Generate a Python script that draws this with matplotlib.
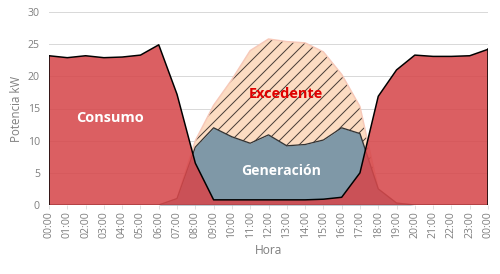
import matplotlib.pyplot as plt

plt.rcParams['font.family'] = ['Open Sans', 'DejaVu Sans']
plt.rcParams['hatch.linewidth'] = 1.0

hours = list(range(25))
hour_labels = ['%02d:00' % (h % 24) for h in hours]

consumo = [23.2, 22.9, 23.2, 22.9, 23.0, 23.3, 24.9, 17.2, 6.5, 0.8, 0.8, 0.8, 0.8,
           0.8, 0.8, 0.9, 1.2, 5.0, 16.9, 21.0, 23.3, 23.1, 23.1, 23.2, 24.2]
generacion = [0, 0, 0, 0, 0, 0, 0, 1.0, 9.0, 12.0, 10.6, 9.6, 10.9,
              9.2, 9.4, 10.1, 12.0, 11.1, 2.5, 0.3, 0, 0, 0, 0, 0]
solar = [0, 0, 0, 0, 0, 0, 0, 1.0, 10.0, 15.5, 19.5, 24.0, 25.8,
         25.4, 25.2, 23.8, 20.3, 15.3, 2.5, 0.3, 0, 0, 0, 0, 0]

fig = plt.figure(figsize=(500 / 72, 274 / 72), dpi=72)
ax = fig.add_axes([49 / 500, 1 - 205 / 274, 439 / 500, 193 / 274])

# excedente (hatched peach)
ax.fill_between(hours, generacion, solar, facecolor='#fcdcc2', edgecolor='#4a3f38',
                hatch='//', linewidth=0, zorder=2)
ax.plot(hours, solar, color='#f7c9b9', linewidth=1.5, zorder=2)

# generacion
ax.fill_between(hours, 0, generacion, color='#7f98a7', linewidth=0, zorder=3)
ax.plot(hours, generacion, color='#333333', linewidth=1.3, zorder=3)

# consumo
ax.fill_between(hours, 0, consumo, facecolor='#d6474b', alpha=0.87, edgecolor='none', zorder=4)
ax.plot(hours, consumo, color='black', linewidth=1.5, zorder=5)
ax.plot([0, 0], [0, consumo[0]], color='black', linewidth=1.5, zorder=5)
ax.plot([24, 24], [0, consumo[-1]], color='black', linewidth=1.5, zorder=5)
ax.plot([0, 24], [0, 0], color='black', linewidth=1.2, zorder=5)

ax.text(3.36, 13.6, 'Consumo', color='white', fontsize=14.5, fontweight='bold',
        ha='center', va='center', zorder=6)
ax.text(12.97, 17.3, 'Excedente', color='#e00000', fontsize=14.5, fontweight='bold',
        ha='center', va='center', zorder=6)
ax.text(12.69, 5.3, 'Generación', color='white', fontsize=14, fontweight='bold',
        ha='center', va='center', zorder=6)

ax.set_xlim(0, 24)
ax.set_ylim(0, 30)
ax.set_yticks(range(0, 31, 5))
ax.set_xticks(hours)
ax.set_xticklabels(hour_labels, rotation=90)
ax.tick_params(axis='x', colors='#d9d9d9', labelcolor='#7f7f7f', labelsize=10.5, length=4, pad=2)
ax.tick_params(axis='y', length=0, labelcolor='#7f7f7f', labelsize=10.5, pad=9)
ax.grid(axis='y', color='#d9d9d9', linewidth=1)
ax.set_axisbelow(True)
for s in ax.spines.values():
    s.set_visible(False)

ax.set_ylabel('Potencia kW', color='#7f7f7f', fontsize=11.5, labelpad=5)
ax.set_xlabel('Hora', color='#7f7f7f', fontsize=12, labelpad=6)

fig.savefig('out.png', dpi=72)
